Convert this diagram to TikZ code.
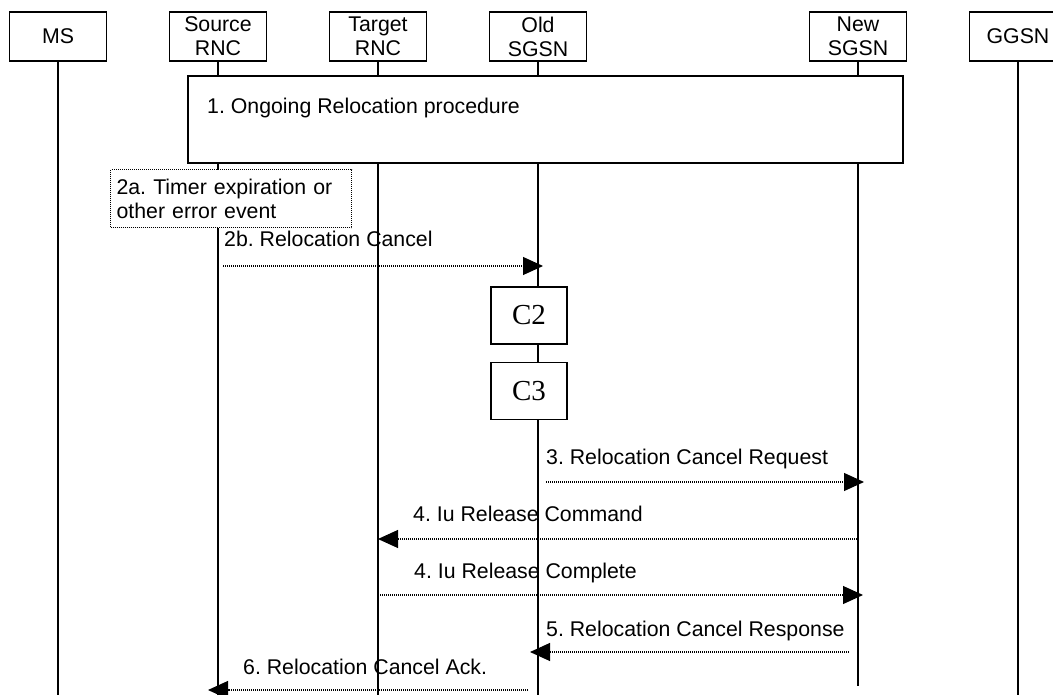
\documentclass[tikz,border=0pt]{standalone}
\usepackage{fontspec}
\setmainfont{Liberation Sans}
\newfontfamily\serifc{Liberation Serif}
\usepackage{tikz}
\usetikzlibrary{arrows.meta, positioning}
\frenchspacing

\begin{document}
\begin{tikzpicture}[
  x=1pt, y=-1pt,
  node distance=63pt,
  ent/.style={draw, line width=1.7pt, outer sep=0pt, minimum width=97pt, minimum height=49pt, inner sep=0pt, align=center, font=\fontsize{21.3}{24}\selectfont},
  life/.style={line width=1.7pt},
  proc/.style={draw, fill=white, line width=1.7pt, minimum width=715pt, minimum height=87pt, inner sep=0pt},
  note/.style={draw, fill=white, line width=1.1pt, dash pattern=on 1pt off 1pt, minimum width=241pt, minimum height=58pt, text width=229pt, inner xsep=6pt, align=left, font=\fontsize{21.3}{24}\selectfont},
  cbox/.style={draw, fill=white, line width=1.7pt, minimum width=76pt, minimum height=57pt, inner sep=0pt, font=\serifc\fontsize{29}{32}\selectfont},
  lbl/.style={inner sep=0pt, font=\fontsize{21.3}{24}\selectfont},
  msg/.style={line width=1.1pt, dash pattern=on 1pt off 1pt, -{Triangle[length=20pt, width=18pt]}}
]
\fill[white] (0,0) rectangle (1053,695);
\useasboundingbox (0,0) rectangle (1053,695);

% entities
\node[ent] (ms) at (58,36.5) {MS};
\node[ent, right=of ms] (src) {Source\\RNC};
\node[ent, right=of src] (tgt) {Target\\RNC};
\node[ent, right=of tgt] (old) {Old\\SGSN};
\node[ent, right=223pt of old] (new) {New\\SGSN};
\node[ent, right=of new] (ggsn) {GGSN};

% lifelines
\foreach \n in {ms,src,tgt,old,ggsn} \draw[life] (\n.south) -- ++(0,634);
\draw[life] (new.south) -- ++(0,625);

\node[proc, anchor=north west] (ongoing) at (187,75) {};
\node[lbl, anchor=base west] (ongoinglbl) at (207,114) {1. Ongoing Relocation procedure};

\node[note, anchor=north west] (timer) at (110,169) {2a. Timer expiration or\\other error event};

\node[cbox] (c2) at (529,315.5) {C2};
\node[cbox] (c3) at (529,391) {C3};

% messages
\node[lbl, anchor=base west] (l2b) at (224,247) {2b. Relocation Cancel};
\draw[msg, shorten <=5pt, shorten >=-5pt] (src |- 0,266) -- (old |- 0,266);

\node[lbl, anchor=base west] (l3) at (546,464) {3. Relocation Cancel Request};
\draw[msg, shorten <=8pt, shorten >=-6pt] (old |- 0,482) -- (new |- 0,482);

\node[lbl, anchor=base west] (l4a) at (413,521) {4. Iu Release Command};
\draw[msg, shorten <=1pt] (new |- 0,539) -- (tgt |- 0,539);

\node[lbl, anchor=base west] (l4b) at (414,578) {4. Iu Release Complete};
\draw[msg, shorten >=-5pt] (tgt |- 0,595) -- (new |- 0,595);

\node[lbl, anchor=base west] (l5) at (546,636) {5. Relocation Cancel Response};
\draw[msg, shorten <=9pt, shorten >=-8pt] (new |- 0,652) -- (old |- 0,652);

\node[lbl, anchor=base west] (l6) at (243,674) {6. Relocation Cancel Ack.};
\draw[msg, shorten <=10pt, shorten >=-10pt] (old |- 0,690) -- (src |- 0,690);
\end{tikzpicture}
\end{document}
